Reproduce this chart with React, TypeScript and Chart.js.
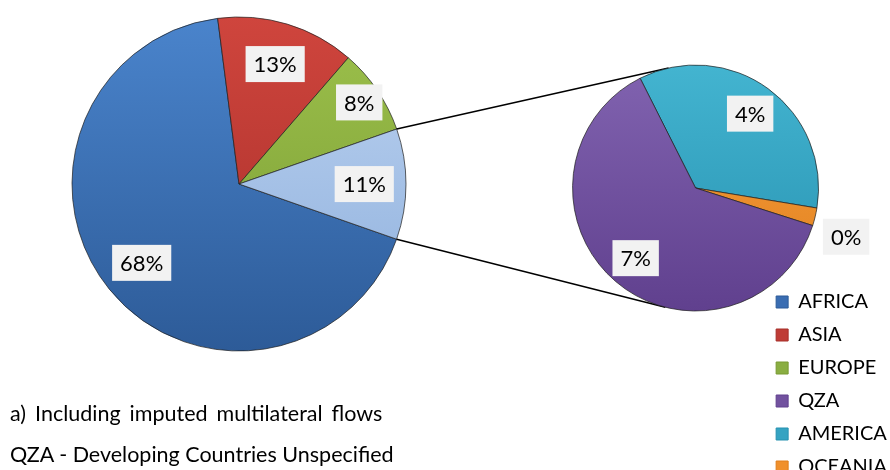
import React, { useEffect, useRef } from "react";
import { Chart, registerables } from "chart.js";

Chart.register(...registerables);

// ---- data (shares of total, %) ----
const mainCategories = ["AFRICA", "ASIA", "EUROPE", "Other"];
const mainShares = [67.6, 13.4, 8.3, 10.7];
const subCategories = ["AMERICA", "OCEANIA", "QZA"];
const subShares = [3.75, 0.25, 6.7];
const legendOrder = ["AFRICA", "ASIA", "EUROPE", "QZA", "AMERICA", "OCEANIA"];
const footnotes = [
  "a) Including imputed multilateral flows",
  "QZA - Developing Countries Unspecified",
];

// ---- styles ----
const FONT = "Lato, 'Open Sans', sans-serif";
const colors: Record<string, [string, string, string]> = {
  AFRICA: ["#4a84cc", "#2d5b98", "#3a6db2"],
  ASIA: ["#cf453d", "#a62e29", "#bf3c36"],
  EUROPE: ["#9dc14c", "#789a32", "#8aae42"],
  Other: ["#bdd3f1", "#8dafdc", "#a6c2e8"],
  QZA: ["#8163b0", "#60408e", "#72529f"],
  AMERICA: ["#43b4d0", "#2791b0", "#35a3c2"],
  OCEANIA: ["#f7a040", "#e07f1c", "#f0902c"],
};

const MAIN_RADIUS = 167;
const SUB_RADIUS = 123;
const SUB_SHIFT = 114; // secondary canvas is placed this many px above the page top

function shaded(names: string[], radius: number) {
  return (c: any) => {
    const col = colors[names[c.dataIndex]];
    const a = c.chart.chartArea;
    if (!a) return col[2];
    const cy = (a.top + a.bottom) / 2;
    const g = c.chart.ctx.createLinearGradient(0, cy - radius, 0, cy + radius);
    g.addColorStop(0, col[0]);
    g.addColorStop(1, col[1]);
    return g;
  };
}

const sliceLabels = {
  id: "sliceLabels",
  afterDatasetsDraw(chart: any) {
    const meta = chart.getDatasetMeta(0);
    const values = chart.data.datasets[0].data as number[];
    const ctx = chart.ctx;
    ctx.save();
    ctx.font = `22px ${FONT}`;
    meta.data.forEach((el: any, i: number) => {
      const { x, y, startAngle, endAngle, outerRadius } = el.getProps(
        ["x", "y", "startAngle", "endAngle", "outerRadius"],
        true
      );
      const deg = ((endAngle - startAngle) * 180) / Math.PI;
      const mid = (startAngle + endAngle) / 2;
      const cos = Math.cos(mid), sin = Math.sin(mid);
      const text = Math.round(values[i]) + "%";
      const w = ctx.measureText(text).width + 16;
      const h = 36;
      let cx: number, cy: number;
      if (deg < 15) {
        // outside label: nearest box corner sits just beyond the rim
        const ax = x + cos * (outerRadius + 8);
        const ay = y + sin * (outerRadius + 8);
        cx = cos >= 0 ? ax + w / 2 : ax - w / 2;
        cy = sin >= 0 ? ay + h / 2 : ay - h / 2;
      } else {
        const f = deg < 35 ? 0.87 : 0.75;
        cx = x + cos * outerRadius * f;
        cy = y + sin * outerRadius * f;
      }
      ctx.fillStyle = "#f2f2f2";
      ctx.fillRect(cx - w / 2, cy - h / 2, w, h);
      ctx.fillStyle = "#000";
      ctx.textAlign = "center";
      ctx.textBaseline = "middle";
      ctx.fillText(text, cx, cy + 1);
    });
    ctx.restore();
  },
};

function connectors(getMain: () => any) {
  return {
    id: "connectors",
    beforeDatasetsDraw(chart: any) {
      const main = getMain();
      if (!main) return;
      const other: any = main.getDatasetMeta(0).data[mainCategories.indexOf("Other")];
      const sub: any = chart.getDatasetMeta(0).data[0];
      if (!other || !sub) return;
      // main-chart coordinates -> secondary-canvas coordinates
      const mx = other.x, my = other.y + SUB_SHIFT, mr = other.outerRadius;
      const cx = sub.x, cy = sub.y, r = sub.outerRadius;
      const ctx = chart.ctx;
      ctx.save();
      ctx.strokeStyle = "#000";
      ctx.lineWidth = 1.5;
      [other.startAngle, other.endAngle].forEach((ang: number, k: number) => {
        const px = mx + Math.cos(ang) * mr;
        const py = my + Math.sin(ang) * mr;
        const d = Math.hypot(px - cx, py - cy);
        const base = Math.atan2(py - cy, px - cx);
        const beta = Math.acos(Math.min(1, r / d));
        const t = k === 0 ? base + beta : base - beta;
        ctx.beginPath();
        ctx.moveTo(px, py);
        ctx.lineTo(cx + Math.cos(t) * r, cy + Math.sin(t) * r);
        ctx.stroke();
      });
      ctx.restore();
    },
  };
}

export default function App() {
  const mainRef = useRef<HTMLCanvasElement>(null);
  const subRef = useRef<HTMLCanvasElement>(null);

  useEffect(() => {
    if (!mainRef.current || !subRef.current) return;
    const main = new Chart(mainRef.current, {
      type: "pie",
      data: {
        labels: mainCategories,
        datasets: [
          {
            data: mainShares,
            backgroundColor: shaded(mainCategories, MAIN_RADIUS),
            borderColor: "rgba(30,30,30,0.7)",
            borderWidth: 1,
            radius: MAIN_RADIUS,
            rotation: 109.3,
          } as any,
        ],
      },
      options: {
        responsive: false,
        animation: false,
        layout: { padding: { left: 72, top: 17, right: 484, bottom: 119 } },
        plugins: { legend: { display: false }, tooltip: { enabled: false } },
      },
      plugins: [sliceLabels],
    });

    const sub = new Chart(subRef.current, {
      type: "pie",
      data: {
        labels: subCategories,
        datasets: [
          {
            data: subShares,
            backgroundColor: shaded(subCategories, SUB_RADIUS),
            borderColor: "rgba(30,30,30,0.7)",
            borderWidth: 1,
            radius: SUB_RADIUS,
            rotation: -26.8,
          } as any,
        ],
      },
      options: {
        responsive: false,
        animation: false,
        layout: { padding: { left: 628, top: 0, right: 3, bottom: 0 } },
        plugins: {
          tooltip: { enabled: false },
          legend: {
            position: "right",
            align: "end",
            maxWidth: 300,
            labels: {
              boxWidth: 12,
              boxHeight: 12,
              padding: 13,
              color: "#000",
              font: { size: 20, family: FONT },
              generateLabels: () =>
                legendOrder.map((name, i) => ({
                  text: name,
                  fillStyle: colors[name][2],
                  strokeStyle: colors[name][1],
                  lineWidth: 1,
                  hidden: false,
                  index: i,
                  datasetIndex: 0,
                })),
            },
          },
        },
      },
      plugins: [sliceLabels, connectors(() => main)],
    });

    return () => {
      sub.destroy();
      main.destroy();
    };
  }, []);

  return (
    <div
      style={{
        position: "absolute",
        left: 0,
        top: 0,
        width: 890,
        height: 470,
        overflow: "hidden",
        background: "#fff",
      }}
    >
      <canvas ref={mainRef} width={890} height={470} style={{ position: "absolute", left: 0, top: 0 }} />
      <canvas
        ref={subRef}
        width={900}
        height={604}
        style={{ position: "absolute", left: 0, top: -SUB_SHIFT }}
      />
      {footnotes.map((t, i) => (
        <div
          key={i}
          style={{
            position: "absolute",
            left: 10,
            top: 403 + i * 41,
            fontFamily: FONT,
            fontSize: 21.5,
            lineHeight: "21.5px",
            wordSpacing: i === 0 ? 3.5 : 0,
            color: "#000",
            whiteSpace: "nowrap",
          }}
        >
          {t}
        </div>
      ))}
    </div>
  );
}
